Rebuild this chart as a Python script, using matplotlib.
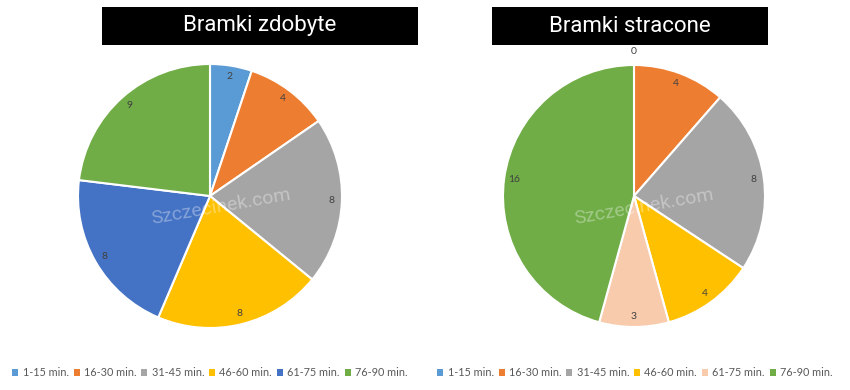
import matplotlib
matplotlib.use("Agg")
import numpy as np
import matplotlib.pyplot as plt
from matplotlib.patches import Patch, Rectangle

categories = ["1-15 min.", "16-30 min.", "31-45 min.", "46-60 min.", "61-75 min.", "76-90 min."]
scored = [2, 4, 8, 8, 8, 9]
conceded = [0, 4, 8, 4, 3, 16]
titles = ["Bramki zdobyte", "Bramki stracone"]

colors_left = ["#5B9BD5", "#ED7D31", "#A5A5A5", "#FFC000", "#4472C4", "#70AD47"]
colors_right = ["#5B9BD5", "#ED7D31", "#A5A5A5", "#FFC000", "#F8CBAD", "#70AD47"]

W, H = 850, 390
fig = plt.figure(figsize=(8.5, 3.9), dpi=100)

def add_pie(cx, cy, r, values, colors, title_box, title, legend_cx):
    ax = fig.add_axes([(cx - r) / W, (H - cy - r) / H, 2 * r / W, 2 * r / H])
    ax.pie(values, colors=colors, startangle=90, counterclock=False,
           wedgeprops=dict(edgecolor="white", linewidth=1.5))
    ax.set_xlim(-1, 1)
    ax.set_ylim(-1, 1)
    ax.set_aspect("equal")
    ax.axis("off")
    total = sum(values)
    cum = 0
    for v in values:
        mid = 90 - (cum + v / 2) / total * 360
        d = 0.92 if v > 0 else 1.1
        x = d * np.cos(np.radians(mid))
        y = d * np.sin(np.radians(mid))
        ax.text(x, y, str(v), ha="center", va="center", fontsize=7.5, color="#404040",
                family="Lato")
        cum += v
    ax.text(0.08, -0.08, "Szczecinek.com", ha="center", va="center", fontsize=14,
            color="white", alpha=0.35, rotation=10, family="Roboto")
    x0, y0, x1, y1 = title_box
    fig.patches.append(Rectangle((x0 / W, 1 - y1 / H), (x1 - x0) / W, (y1 - y0) / H,
                                 transform=fig.transFigure, facecolor="black",
                                 edgecolor="none", zorder=0))
    fig.text((x0 + x1) / 2 / W, 1 - (y0 + y1) / 2 / H, title, ha="center", va="center",
             color="white", fontsize=16, family="Roboto")
    handles = [Patch(facecolor=c, edgecolor="none") for c in colors]
    fig.legend(handles, categories, loc="center", bbox_to_anchor=(legend_cx / W, 1 - 373 / H),
               ncol=6, frameon=False, prop=dict(family="Lato", size=7.8), labelcolor="#595959",
               handlelength=0.55, handleheight=0.55, handletextpad=0.4,
               columnspacing=0.45)

add_pie(210, 196, 132, scored, colors_left, (102, 7, 418, 45), titles[0], 210)
add_pie(634, 196, 131, conceded, colors_right, (492, 7, 768, 45), titles[1], 635)

fig.savefig("out.png", dpi=100)
